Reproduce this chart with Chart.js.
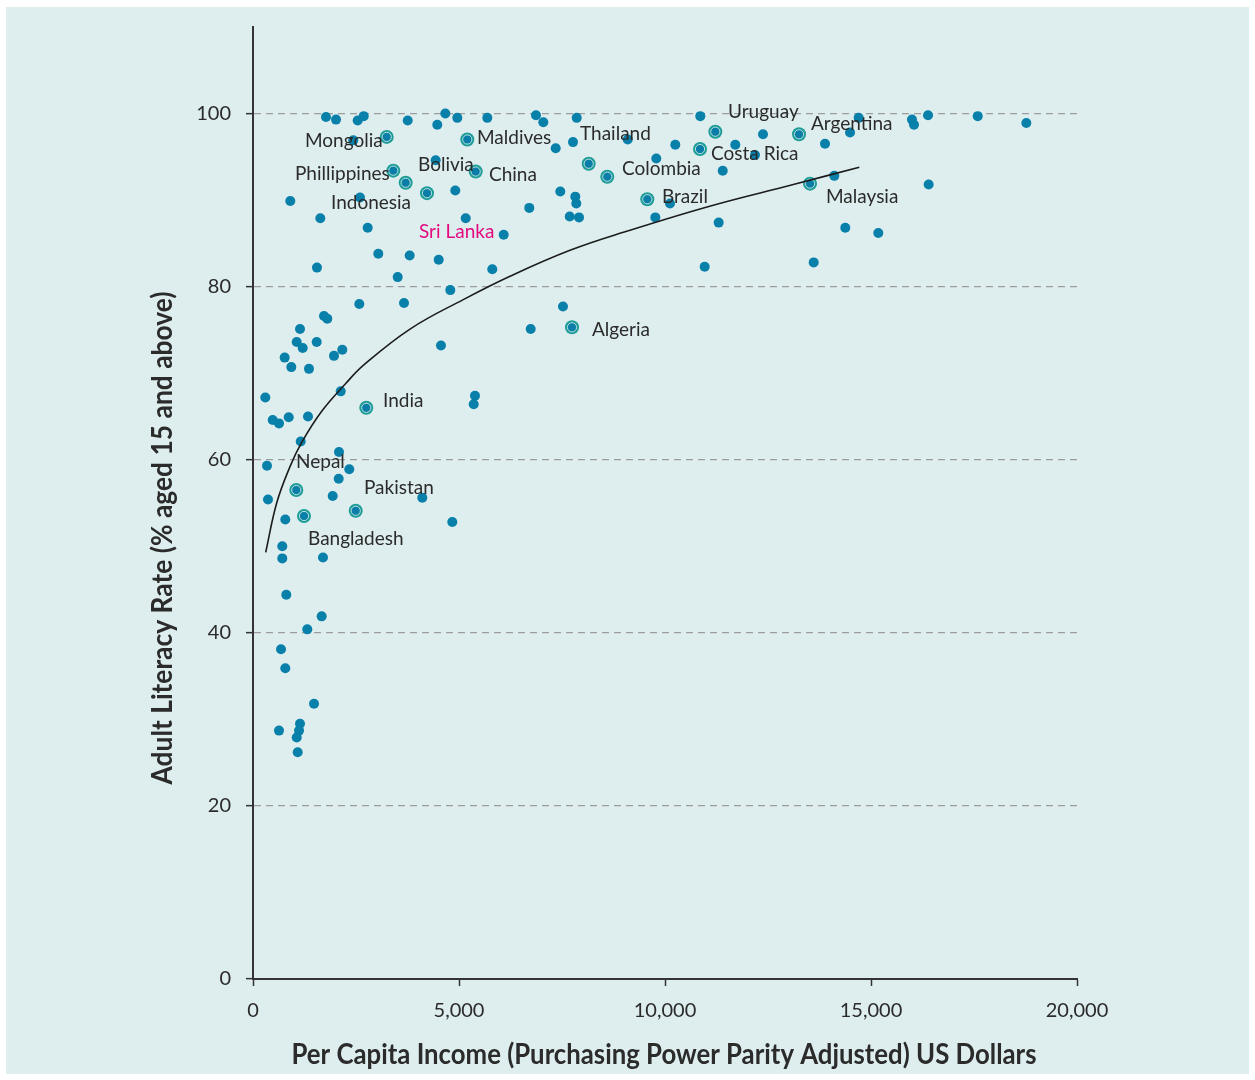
<!DOCTYPE html>
<html>
<head>
<meta charset="utf-8">
<script src="https://cdn.jsdelivr.net/npm/chart.js@4/dist/chart.umd.min.js"></script>
<style>
  html, body { margin: 0; padding: 0; background: #ffffff; }
  canvas { display: block; }
</style>
</head>
<body>
<canvas id="chart" width="1255" height="1080"></canvas>
<script>
// Per capita income (PPP, US$) and adult literacy rate (%) for each country
const incomeAll = [
  1772, 2015, 2541, 2687, 3755, 4668, 4959, 4473, 5687, 6869, 7046, 2434, 4434, 4910, 2597, 905,
  1634, 6706, 5163, 2784, 6085, 3041, 3803, 4507, 1553, 5808, 3512, 4789, 2580, 3665, 7857, 7347,
  7767, 9095, 10250, 10857, 11706, 12379, 13884, 12185, 11401, 9789, 7459, 7823, 7847, 7687, 7913,
  10121, 9765, 11303, 14109, 10963, 13609, 7524, 14701, 14491, 15995, 16044, 16384, 17590, 18770,
  16400, 14376, 15177, 1723, 1803, 1141, 1061, 1206, 1546, 769, 930, 1359, 1966, 2167, 4563, 6740,
  2129, 299, 5388, 5357, 478, 631, 867, 1335, 1158, 2087, 340, 2337, 2080, 364, 1934, 4109, 784,
  4837, 711, 711, 1699, 808, 1667, 1318, 680, 784, 1481, 631, 1141, 1117, 1061, 1085
];
const literacyAll = [
  99.6, 99.3, 99.2, 99.7, 99.2, 100.0, 99.5, 98.7, 99.5, 99.8, 99.0, 96.9, 94.6, 91.1, 90.3, 89.9,
  87.9, 89.1, 87.9, 86.8, 86.0, 83.8, 83.6, 83.1, 82.2, 82.0, 81.1, 79.6, 78.0, 78.1, 99.5, 96.0,
  96.7, 97.0, 96.4, 99.7, 96.4, 97.6, 96.5, 95.2, 93.4, 94.8, 91.0, 90.4, 89.6, 88.1, 88.0,
  89.6, 88.0, 87.4, 92.8, 82.3, 82.8, 77.7, 99.5, 97.8, 99.3, 98.7, 99.8, 99.7, 98.9,
  91.8, 86.8, 86.2, 76.6, 76.3, 75.1, 73.6, 72.9, 73.6, 71.8, 70.7, 70.5, 72.0, 72.7, 73.2, 75.1,
  67.9, 67.2, 67.4, 66.4, 64.6, 64.2, 64.9, 65.0, 62.1, 60.9, 59.3, 58.9, 57.8, 55.4, 55.8, 55.6, 53.1,
  52.8, 50.0, 48.6, 48.7, 44.4, 41.9, 40.4, 38.1, 35.9, 31.8, 28.7, 29.5, 28.7, 27.9, 26.2
];

// Highlighted countries
const highlightNames = [
  'Mongolia', 'Maldives', 'Phillippines', 'Bolivia', 'Indonesia', 'China', 'Thailand', 'Colombia',
  'Brazil', 'Costa Rica', 'Uruguay', 'Argentina', 'Malaysia', 'Algeria', 'India', 'Nepal',
  'Pakistan', 'Bangladesh'
];
const highlightIncome = [
  3245, 5201, 3405, 3706, 4223, 5405, 8148, 8599, 9570, 10850, 11221, 13253, 13520, 7743, 2750, 1051,
  2493, 1238
];
const highlightLiteracy = [
  97.3, 97.0, 93.4, 92.0, 90.8, 93.3, 94.2, 92.7, 90.1, 95.9, 97.9, 97.6, 91.9, 75.3, 66.0, 56.5,
  54.1, 53.5
];

// Fitted trend curve
const fitIncome = [308, 575, 898, 1182, 1668, 2250, 2677, 3811, 5104, 6238, 7694, 9070, 11085, 13114, 14716];
const fitLiteracy = [49.3, 55.0, 59.2, 62.0, 65.6, 68.8, 70.9, 75.1, 78.5, 81.2, 84.2, 86.4, 89.3, 91.8, 93.8];

// Axis ticks
const xTicks = [0, 5000, 10000, 15000, 20000];
const yTicks = [0, 20, 40, 60, 80, 100];

// Country name annotations: text, and where the text starts (income, literacy)
const labelTexts = [
  'Mongolia', 'Maldives', 'Phillippines', 'Bolivia', 'China', 'Indonesia', 'Sri Lanka', 'Thailand',
  'Uruguay', 'Argentina', 'Costa Rica', 'Colombia', 'Brazil', 'Malaysia', 'Algeria', 'India',
  'Nepal', 'Pakistan', 'Bangladesh'
];
const labelIncome = [
  1262, 5437, 1019, 4005, 5728, 1893, 4029, 7937, 11529, 13544, 11117, 8956, 9927, 13908, 8228, 3155,
  1044, 2694, 1335
];
const labelLiteracy = [
  96.8, 97.2, 93.0, 94.1, 92.9, 89.7, 86.3, 97.6, 100.2, 98.8, 95.3, 93.6, 90.4, 90.4, 75.0, 66.8,
  59.7, 56.7, 50.8
];
const accentLabel = 'Sri Lanka';

const xTitle = 'Per Capita Income (Purchasing Power Parity Adjusted) US Dollars';
const yTitle = 'Adult Literacy Rate (% aged 15 and above)';

const toPoints = (xs, ys) => xs.map((x, i) => ({ x: x, y: ys[i] }));

const PANEL = '#deeeef';
const INK = '#2b2b2b';
const LABEL_FONT = '19px Lato, "Noto Sans", sans-serif';
const TITLE_FONT = 'bold 28px "Liberation Sans Narrow", Lato, "Noto Sans", sans-serif';

// Light panel behind the whole figure
const panelPlugin = {
  id: 'panel',
  beforeDraw(chart) {
    const ctx = chart.ctx;
    ctx.save();
    ctx.fillStyle = '#ffffff';
    ctx.fillRect(0, 0, chart.width, chart.height);
    ctx.fillStyle = PANEL;
    ctx.fillRect(6, 7, chart.width - 12, chart.height - 13);
    ctx.restore();
  }
};

// Country names placed in data space
const labelPlugin = {
  id: 'countryLabels',
  afterDatasetsDraw(chart) {
    const ctx = chart.ctx;
    const xs = chart.scales.x, ys = chart.scales.y;
    ctx.save();
    ctx.font = LABEL_FONT;
    ctx.textAlign = 'left';
    ctx.textBaseline = 'middle';
    labelTexts.forEach((t, i) => {
      ctx.fillStyle = t === accentLabel ? '#e5097f' : INK;
      ctx.fillText(t, xs.getPixelForValue(labelIncome[i]), ys.getPixelForValue(labelLiteracy[i]));
    });
    ctx.restore();
  }
};

// Axis titles, condensed to their set widths
function fitText(ctx, text, cx, cy, width) {
  const w = ctx.measureText(text).width;
  const s = w > width ? width / w : 1;
  ctx.save();
  ctx.translate(cx, cy);
  ctx.scale(s, 1);
  ctx.fillText(text, 0, 0);
  ctx.restore();
}
const titlePlugin = {
  id: 'axisTitles',
  afterDraw(chart) {
    const ctx = chart.ctx;
    ctx.save();
    ctx.font = TITLE_FONT;
    ctx.fillStyle = INK;
    ctx.textAlign = 'center';
    ctx.textBaseline = 'middle';
    fitText(ctx, xTitle, 664, 1055, 745);
    ctx.translate(163, 538);
    ctx.rotate(-Math.PI / 2);
    fitText(ctx, yTitle, 0, 0, 493);
    ctx.restore();
  }
};

new Chart(document.getElementById('chart'), {
  type: 'scatter',
  data: {
    datasets: [
      {
        type: 'line',
        data: toPoints(fitIncome, fitLiteracy),
        borderColor: '#1c1c1c',
        borderWidth: 1.6,
        pointRadius: 0,
        tension: 0.4,
        fill: false,
        order: 0
      },
      {
        data: toPoints(highlightIncome, highlightLiteracy),
        pointRadius: 4.6,
        backgroundColor: '#0a7ea8',
        borderColor: '#b4e0dc',
        borderWidth: 1,
        order: 1
      },
      {
        data: toPoints(highlightIncome, highlightLiteracy),
        pointRadius: 7,
        backgroundColor: '#1e9c98',
        borderWidth: 0,
        order: 2
      },
      {
        data: toPoints(incomeAll, literacyAll),
        pointRadius: 5,
        backgroundColor: '#0880a9',
        borderWidth: 0,
        order: 3
      }
    ]
  },
  options: {
    responsive: false,
    animation: false,
    devicePixelRatio: 1,
    events: [],
    layout: { padding: { top: 24, right: 178, left: 0, bottom: 0 } },
    plugins: { legend: { display: false }, tooltip: { enabled: false } },
    scales: {
      x: {
        type: 'linear',
        min: 0,
        max: 20000,
        afterBuildTicks: s => { s.ticks = xTicks.map(v => ({ value: v })); },
        afterFit: s => { s.height = 101; },
        grid: { drawOnChartArea: false, drawTicks: true, tickLength: 7, tickColor: '#333', tickWidth: 1.5 },
        border: { color: '#333', width: 2 },
        ticks: {
          color: INK,
          padding: 13,
          maxRotation: 0,
          font: { family: 'Lato, "Noto Sans", sans-serif', size: 20 },
          callback: v => Number(v).toLocaleString('en-US')
        }
      },
      y: {
        min: 0,
        max: 110,
        afterBuildTicks: s => { s.ticks = yTicks.map(v => ({ value: v })); },
        afterFit: s => { s.width = 253; },
        grid: {
          color: c => (c.tick && c.tick.value === 0) ? 'rgba(0,0,0,0)' : '#9c9c9c',
          lineWidth: 1.3,
          tickLength: 7,
          tickColor: '#333',
          tickWidth: 1.5,
          tickBorderDash: []
        },
        border: { color: '#333', width: 2, dash: [7, 5] },
        ticks: {
          color: INK,
          padding: 15,
          font: { family: 'Lato, "Noto Sans", sans-serif', size: 20 }
        }
      }
    }
  },
  plugins: [panelPlugin, labelPlugin, titlePlugin]
});
</script>
</body>
</html>
